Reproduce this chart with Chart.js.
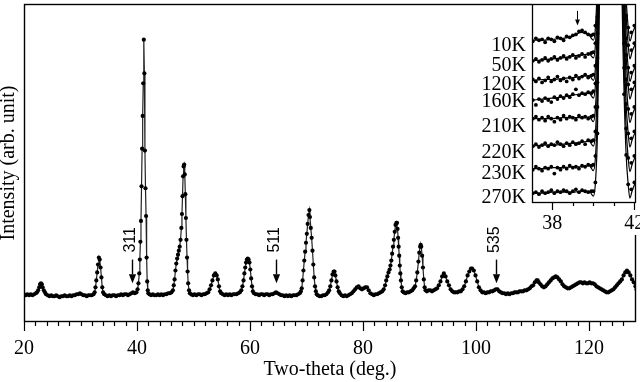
<!DOCTYPE html>
<html lang="en">
<head>
<meta charset="UTF-8">
<title>XRD pattern</title>
<script src="https://cdn.jsdelivr.net/npm/chart.js"></script>
<style>
  body { margin: 0; background: #fff; }
  #wrap { position: relative; width: 640px; height: 382px; }
  #wrap canvas { display: block; }
  #inset { position: absolute; left: 470px; top: 0; }
</style>
</head>
<body>
<div id="wrap">
  <canvas id="main" width="640" height="382"></canvas>
  <canvas id="inset" width="170" height="235"></canvas>
</div>
<script>
// main scan
const twoTheta = [
  20.0, 20.3, 20.6, 20.9, 21.2, 21.5, 21.8, 22.1, 22.3, 22.5,
  22.7, 22.85, 23.0, 23.15, 23.3, 23.5, 23.7, 23.9, 24.2, 24.5,
  24.8, 25.1, 25.4, 25.7, 26.0, 26.3, 26.6, 26.9, 27.2, 27.5,
  27.8, 28.1, 28.4, 28.7, 29.0, 29.3, 29.6, 29.9, 30.2, 30.5,
  30.8, 31.1, 31.4, 31.7, 32.0, 32.3, 32.5, 32.65, 32.8, 32.95,
  33.1, 33.25, 33.4, 33.55, 33.7, 33.85, 34.0, 34.2, 34.5, 34.8,
  35.1, 35.4, 35.7, 36.0, 36.3, 36.6, 36.9, 37.2, 37.5, 37.8,
  38.1, 38.4, 38.7, 39.0, 39.3, 39.6, 39.9, 40.1, 40.25, 40.4,
  40.5, 40.6, 40.7, 40.8, 40.9, 41.0, 41.1, 41.2, 41.3, 41.4,
  41.5, 41.6, 41.7, 41.8, 41.9, 42.0, 42.2, 42.5, 42.8, 43.1,
  43.4, 43.7, 44.0, 44.3, 44.6, 44.9, 45.2, 45.5, 45.8, 46.1,
  46.35, 46.5, 46.65, 46.8, 46.95, 47.1, 47.25, 47.4, 47.55, 47.7,
  47.85, 47.95, 48.05, 48.15, 48.25, 48.35, 48.45, 48.55, 48.65, 48.75,
  48.85, 48.95, 49.05, 49.2, 49.35, 49.6, 49.9, 50.2, 50.5, 50.8,
  51.1, 51.4, 51.7, 52.0, 52.3, 52.6, 52.85, 53.1, 53.35, 53.6,
  53.85, 54.1, 54.3, 54.5, 54.7, 54.9, 55.2, 55.5, 55.8, 56.1,
  56.4, 56.7, 57.0, 57.3, 57.6, 57.9, 58.2, 58.45, 58.65, 58.85,
  59.0, 59.15, 59.3, 59.45, 59.6, 59.75, 59.9, 60.05, 60.2, 60.35,
  60.5, 60.7, 61.0, 61.3, 61.6, 61.9, 62.2, 62.5, 62.8, 63.1,
  63.4, 63.7, 64.0, 64.3, 64.6, 64.9, 65.2, 65.5, 65.8, 66.1,
  66.4, 66.7, 67.0, 67.3, 67.6, 67.9, 68.2, 68.5, 68.8, 69.0,
  69.15, 69.3, 69.45, 69.6, 69.75, 69.9, 70.05, 70.2, 70.35, 70.5,
  70.6, 70.75, 70.9, 71.05, 71.2, 71.35, 71.5, 71.65, 71.8, 72.0,
  72.3, 72.6, 72.9, 73.2, 73.5, 73.8, 74.0, 74.2, 74.4, 74.6,
  74.8, 74.95, 75.1, 75.3, 75.5, 75.7, 75.9, 76.2, 76.5, 76.8,
  77.1, 77.4, 77.7, 78.0, 78.3, 78.6, 78.9, 79.2, 79.5, 79.8,
  80.1, 80.4, 80.7, 81.0, 81.3, 81.6, 81.9, 82.2, 82.5, 82.8,
  83.1, 83.4, 83.65, 83.9, 84.1, 84.3, 84.5, 84.7, 84.85, 85.0,
  85.15, 85.3, 85.45, 85.6, 85.75, 85.9, 86.0, 86.1, 86.2, 86.3,
  86.4, 86.5, 86.6, 86.7, 86.85, 87.0, 87.2, 87.5, 87.8, 88.1,
  88.4, 88.7, 88.95, 89.2, 89.4, 89.6, 89.8, 89.95, 90.1, 90.2,
  90.3, 90.45, 90.6, 90.75, 90.9, 91.05, 91.3, 91.6, 91.9, 92.2,
  92.5, 92.8, 93.1, 93.4, 93.7, 94.0, 94.3, 94.6, 94.9, 95.2,
  95.5, 95.8, 96.1, 96.4, 96.7, 97.0, 97.3, 97.6, 97.9, 98.2,
  98.5, 98.8, 99.1, 99.3, 99.6, 99.9, 100.2, 100.5, 100.8, 101.1,
  101.4, 101.7, 102.0, 102.3, 102.6, 102.9, 103.2, 103.5, 103.8, 104.1,
  104.4, 104.7, 105.0, 105.3, 105.6, 105.9, 106.2, 106.5, 106.8, 107.1,
  107.4, 107.7, 108.0, 108.3, 108.6, 108.9, 109.2, 109.5, 109.8, 110.1,
  110.4, 110.7, 110.9, 111.1, 111.4, 111.7, 112.0, 112.3, 112.6, 112.9,
  113.2, 113.5, 113.8, 114.1, 114.4, 114.7, 115.0, 115.3, 115.6, 115.9,
  116.2, 116.5, 116.8, 117.1, 117.4, 117.7, 118.0, 118.3, 118.6, 118.9,
  119.2, 119.5, 119.8, 120.1, 120.4, 120.7, 121.0, 121.3, 121.6, 121.9,
  122.2, 122.5, 122.8, 123.1, 123.4, 123.7, 124.0, 124.3, 124.6, 124.9,
  125.2, 125.5, 125.8, 126.1, 126.4, 126.7, 127.0, 127.3, 127.6, 127.9,
  128.2, 128.4
];
const intensity = [
  3, 2, 3, 2, 3, 2, 3, 4, 5, 7,
  10, 13, 14, 13, 10, 7, 5, 3, 2, 1,
  2, 1, 1, 2, 1, 0, 1, 1, 2, 1,
  1, 2, 1, 2, 2, 3, 3, 4, 3, 2,
  2, 1, 2, 2, 2, 3, 5, 10, 17, 25,
  33, 40, 38, 30, 20, 10, 5, 3, 2, 1,
  2, 1, 2, 2, 1, 2, 2, 3, 2, 3,
  3, 2, 3, 4, 5, 4, 5, 8, 14, 24,
  38, 56, 77, 112, 150, 183, 216, 260, 226, 148,
  110, 82, 40, 16, 7, 4, 3, 2, 3, 2,
  2, 3, 2, 3, 2, 3, 3, 4, 4, 5,
  7, 12, 18, 27, 34, 39, 43, 47, 51, 58,
  70, 84, 102, 122, 132, 134, 124, 104, 80, 58,
  40, 26, 14, 7, 4, 3, 2, 3, 2, 3,
  3, 2, 3, 3, 4, 5, 8, 12, 17, 22,
  24, 22, 18, 11, 6, 4, 3, 2, 3, 2,
  3, 2, 3, 3, 3, 4, 5, 7, 11, 17,
  24, 30, 35, 38, 39, 38, 35, 28, 19, 11,
  6, 4, 3, 3, 2, 3, 3, 2, 3, 3,
  2, 3, 3, 4, 5, 4, 3, 2, 2, 1,
  2, 1, 2, 1, 2, 2, 2, 3, 4, 6,
  9, 17, 27, 37, 46, 55, 64, 74, 83, 88,
  81, 70, 60, 47, 33, 20, 11, 6, 3, 2,
  1, 1, 2, 2, 3, 5, 7, 11, 17, 23,
  26, 26, 22, 16, 10, 6, 4, 2, 1, 2,
  1, 2, 3, 4, 6, 8, 10, 11, 9, 8,
  9, 10, 10, 7, 4, 3, 2, 3, 3, 4,
  5, 6, 8, 12, 17, 21, 25, 28, 32, 37,
  44, 51, 58, 66, 73, 75, 75, 69, 60, 51,
  42, 32, 24, 17, 10, 6, 5, 4, 5, 5,
  6, 7, 9, 11, 17, 25, 36, 45, 51, 53,
  51, 42, 30, 18, 10, 7, 6, 7, 7, 6,
  7, 8, 9, 12, 16, 21, 24, 21, 16, 12,
  8, 6, 5, 5, 5, 6, 6, 8, 11, 16,
  22, 26, 29, 29, 27, 22, 16, 10, 7, 5,
  5, 4, 5, 5, 6, 6, 7, 8, 8, 6,
  5, 4, 4, 3, 4, 3, 4, 4, 5, 5,
  5, 6, 6, 6, 7, 7, 8, 9, 11, 12,
  15, 17, 17, 15, 13, 11, 10, 11, 13, 15,
  17, 19, 20, 21, 20, 18, 16, 13, 11, 10,
  9, 9, 10, 11, 12, 13, 14, 15, 15, 14,
  15, 14, 14, 15, 14, 14, 13, 11, 10, 9,
  8, 7, 6, 5, 5, 6, 7, 8, 10, 12,
  14, 16, 18, 22, 25, 27, 25, 22, 18, 15,
  11, 8
];

// reflections marked with arrows
const hklNames = ['311', '511', '535'];
const hklTheta = [39.2, 64.6, 103.5];

// inset: low-angle side of the strongest peak at each temperature
const temps = ['10K', '50K', '120K', '160K', '210K', '220K', '230K', '270K'];
const labelLevels = [160, 140, 121, 103, 78, 51, 30, 5];
const insetTicks = [38, 39, 40, 41, 42];

const insetTheta = [
  37.05, 37.2, 37.35, 37.5, 37.65, 37.8, 37.95, 38.1, 38.25, 38.4,
  38.55, 38.7, 38.85, 39.0, 39.15, 39.3, 39.45, 39.6, 39.75, 39.9,
  40.0, 40.1, 40.2, 40.3, 40.4, 41.3, 41.4, 41.5, 41.6, 41.7,
  41.85, 42.0
];
const dots10K = [165, 168, 166, 167, 164, 168, 167, 165, 169, 168,
  166, 170, 169, 171, 172, 175, 176, 174, 172, 171,
  172, 181, 231, 371, 551, 571, 371, 271, 209, 179, 174, 181];
const dots50K = [145, 147, 144, 146, 148, 145, 147, 149, 146, 148,
  150, 147, 149, 151, 148, 150, 152, 149, 152, 153,
  154, 163, 213, 353, 533, 553, 353, 253, 191, 161, 156, 163];
const dots120K = [126, 124, 127, 123, 125, 128, 124, 126, 129, 125,
  127, 124, 128, 126, 130, 127, 129, 131, 128, 130,
  131, 140, 190, 330, 510, 530, 330, 230, 168, 138, 133, 140];
const dots160K = [105, 100, 106, 104, 107, 105, 103, 108, 106, 109,
  107, 110, 108, 111, 116, 110, 112, 111, 113, 112,
  114, 122, 173, 313, 493, 513, 313, 213, 151, 121, 116, 123];
const dots210K = [86, 88, 85, 87, 84, 88, 86, 83, 87, 85,
  89, 86, 88, 87, 85, 89, 87, 88, 86, 88,
  89, 98, 148, 288, 468, 488, 288, 188, 126, 96, 91, 98];
const dots220K = [58, 60, 57, 59, 61, 58, 60, 59, 62, 60,
  58, 61, 59, 62, 60, 61, 63, 60, 64, 63,
  64, 73, 123, 263, 443, 463, 263, 163, 101, 71, 66, 73];
const dots230K = [34, 37, 35, 33, 36, 35, 37, 30, 36, 34,
  37, 35, 38, 36, 37, 35, 38, 37, 39, 38,
  39, 48, 98, 238, 418, 438, 238, 138, 76, 46, 41, 48];
const dots270K = [10, 11, 9, 12, 10, 11, 13, 10, 12, 11,
  13, 12, 10, 12, 14, 11, 13, 12, 11, 12,
  12, 21, 71, 211, 391, 411, 211, 111, 49, 19, 14, 21];

const fitTheta = [37.05, 37.5, 38.0, 38.5, 39.0, 39.4, 39.8, 40.0, 40.1, 40.2,
  40.3, 40.45, 41.25, 41.4, 41.5, 41.6, 41.7, 41.78, 41.9, 42.1];
const fit10K = [166, 166, 167, 168, 170, 174, 171, 166, 179, 231, 371, 621, 671, 371, 271, 209, 179, 165, 173, 183];
const fit50K = [145, 146, 147, 148, 150, 151, 152, 148, 161, 213, 353, 603, 653, 353, 253, 191, 161, 147, 155, 165];
const fit120K = [125, 126, 126, 127, 128, 129, 130, 125, 138, 190, 330, 580, 630, 330, 230, 168, 138, 124, 132, 142];
const fit160K = [105, 106, 107, 108, 110, 111, 112, 107, 120, 172, 312, 562, 612, 312, 212, 150, 120, 106, 114, 124];
const fit210K = [86, 86, 86, 87, 87, 87, 88, 83, 96, 148, 288, 538, 588, 288, 188, 126, 96, 82, 90, 100];
const fit220K = [58, 59, 59, 60, 61, 62, 63, 58, 71, 123, 263, 513, 563, 263, 163, 101, 71, 57, 65, 75];
const fit230K = [35, 35, 36, 36, 37, 37, 38, 33, 46, 98, 238, 488, 538, 238, 138, 76, 46, 32, 40, 50];
const fit270K = [10, 10, 11, 11, 11, 12, 12, 7, 20, 71, 211, 461, 511, 211, 111, 49, 19, 5, 13, 23];

const dotSets = [dots10K, dots50K, dots120K, dots160K, dots210K, dots220K, dots230K, dots270K];
const fitSets = [fit10K, fit50K, fit120K, fit160K, fit210K, fit220K, fit230K, fit270K];

const serif = "'Liberation Serif', 'Times New Roman', serif";
const sans = "'Liberation Sans', Arial, sans-serif";

function pairs(xs, ys) {
  return xs.map((x, i) => ({ x, y: ys[i] }));
}

function drawFrame(chart, lw) {
  const { ctx, chartArea: a } = chart;
  ctx.save();
  ctx.strokeStyle = '#000';
  ctx.lineWidth = lw;
  ctx.strokeRect(a.left + 0.5, a.top + 0.5, a.right - a.left - 1, a.bottom - a.top - 1);
  ctx.restore();
}

// outward tick marks, long where the tick has a label
function drawTickMarks(chart, scale, major, minor) {
  const ctx = chart.ctx;
  ctx.save();
  ctx.strokeStyle = '#000';
  ctx.lineWidth = 1.2;
  ctx.beginPath();
  scale.ticks.forEach(t => {
    const px = Math.round(scale.getPixelForValue(t.value)) + 0.5;
    ctx.moveTo(px, scale.top);
    ctx.lineTo(px, scale.top + (t.label ? major : minor));
  });
  ctx.stroke();
  ctx.restore();
}

function drawArrow(ctx, x, y0, y1, head) {
  ctx.beginPath();
  ctx.moveTo(x, y0);
  ctx.lineTo(x, y1 - head);
  ctx.stroke();
  ctx.beginPath();
  ctx.moveTo(x - head * 0.4, y1 - head);
  ctx.lineTo(x + head * 0.4, y1 - head);
  ctx.lineTo(x, y1);
  ctx.closePath();
  ctx.fill();
}

const mainDecor = {
  id: 'mainDecor',
  afterDraw(chart) {
    const { ctx, scales: { x, y } } = chart;
    drawFrame(chart, 1.4);
    drawTickMarks(chart, x, 9, 4);
    ctx.save();
    ctx.strokeStyle = '#000';
    ctx.fillStyle = '#000';
    ctx.lineWidth = 1.4;
    hklTheta.forEach((t, i) => {
      const px = Math.round(x.getPixelForValue(t)) + 0.5;
      drawArrow(ctx, px, y.getPixelForValue(38), y.getPixelForValue(14), 9);
      ctx.save();
      ctx.translate(px - 2, y.getPixelForValue(58));
      ctx.rotate(-Math.PI / 2);
      ctx.font = '16px ' + sans;
      ctx.textAlign = 'center';
      ctx.textBaseline = 'middle';
      ctx.fillText(hklNames[i], 0, 0);
      ctx.restore();
    });
    ctx.restore();
  }
};

const insetDecor = {
  id: 'insetDecor',
  beforeDraw(chart) {
    const { ctx, chartArea: a, width, height } = chart;
    ctx.save();
    ctx.fillStyle = '#fff';
    ctx.fillRect(a.left, 0, width - a.left, height);
    ctx.restore();
  },
  afterDraw(chart) {
    const { ctx, scales: { x, y } } = chart;
    drawFrame(chart, 1.3);
    drawTickMarks(chart, x, 7, 3);
    ctx.save();
    ctx.strokeStyle = '#000';
    ctx.fillStyle = '#000';
    ctx.lineWidth = 1;
    drawArrow(ctx, Math.round(x.getPixelForValue(39.2)) + 0.5, y.getPixelForValue(196), y.getPixelForValue(181), 6);
    ctx.restore();
  }
};

new Chart(document.getElementById('main'), {
  type: 'line',
  data: {
    datasets: [{
      data: pairs(twoTheta, intensity),
      borderColor: '#222',
      borderWidth: 1.2,
      pointRadius: 2.1,
      pointBorderWidth: 0,
      pointBackgroundColor: '#000',
      tension: 0
    }]
  },
  options: {
    responsive: false,
    animation: false,
    layout: { padding: { top: 1, right: 4, left: 0, bottom: 0 } },
    plugins: { legend: { display: false }, tooltip: { enabled: false } },
    scales: {
      x: {
        type: 'linear',
        min: 20,
        max: 128.3,
        grid: { display: false, drawTicks: false },
        border: { display: false },
        ticks: {
          stepSize: 2,
          autoSkip: false,
          maxRotation: 0,
          padding: 15,
          color: '#000',
          font: { family: serif, size: 20, lineHeight: 1.2 },
          callback: v => (v % 20 === 0 ? v : '')
        },
        afterBuildTicks: s => {
          s.ticks = s.ticks.filter(t => Math.abs(t.value - Math.round(t.value)) < 1e-6);
        },
        afterFit: s => { s.height = 60; s.paddingLeft = 0; s.paddingRight = 0; },
        title: {
          display: true,
          text: 'Two-theta (deg.)',
          color: '#000',
          font: { family: serif, size: 20, lineHeight: 1.2 },
          padding: { top: 0, bottom: 0 }
        }
      },
      y: {
        min: -25,
        max: 296,
        grid: { display: false, drawTicks: false },
        border: { display: false },
        ticks: { display: false },
        afterFit: s => { s.width = 24; s.paddingTop = 0; s.paddingBottom = 0; },
        title: {
          display: true,
          text: 'Intensity (arb. unit)',
          color: '#000',
          font: { family: serif, size: 20, lineHeight: 0.85 },
          padding: { top: 0, bottom: 0 }
        }
      }
    }
  },
  plugins: [mainDecor]
});

const insetSets = [];
dotSets.forEach(d => {
  insetSets.push({
    data: pairs(insetTheta, d),
    showLine: false,
    pointRadius: 1.9,
    pointBorderWidth: 0,
    pointBackgroundColor: '#000'
  });
});
fitSets.forEach(f => {
  insetSets.push({
    data: pairs(fitTheta, f),
    borderColor: '#000',
    borderWidth: 1.2,
    pointRadius: 0,
    cubicInterpolationMode: 'monotone'
  });
});

new Chart(document.getElementById('inset'), {
  type: 'line',
  data: { datasets: insetSets },
  options: {
    responsive: false,
    animation: false,
    layout: { padding: 0 },
    plugins: { legend: { display: false }, tooltip: { enabled: false } },
    scales: {
      x: {
        type: 'linear',
        min: 37.01,
        max: 42.08,
        grid: { display: false, drawTicks: false },
        border: { display: false },
        ticks: {
          autoSkip: false,
          maxRotation: 0,
          padding: 9,
          color: '#000',
          font: { family: serif, size: 20, lineHeight: 1.2 },
          callback: v => (v === 38 || v === 42 ? v : '')
        },
        afterBuildTicks: s => { s.ticks = insetTicks.map(v => ({ value: v })); },
        afterFit: s => { s.height = 32; s.paddingLeft = 0; s.paddingRight = 0; }
      },
      y: {
        min: 0,
        max: 203,
        grid: { display: false, drawTicks: false },
        border: { display: false },
        ticks: {
          autoSkip: false,
          padding: 6,
          color: '#000',
          font: { family: serif, size: 20, lineHeight: 1.2 },
          callback: v => temps[labelLevels.indexOf(v)]
        },
        afterBuildTicks: s => { s.ticks = labelLevels.map(v => ({ value: v })); },
        afterFit: s => { s.width = 62; s.paddingTop = 0; s.paddingBottom = 0; }
      }
    }
  },
  plugins: [insetDecor]
});
</script>
</body>
</html>
